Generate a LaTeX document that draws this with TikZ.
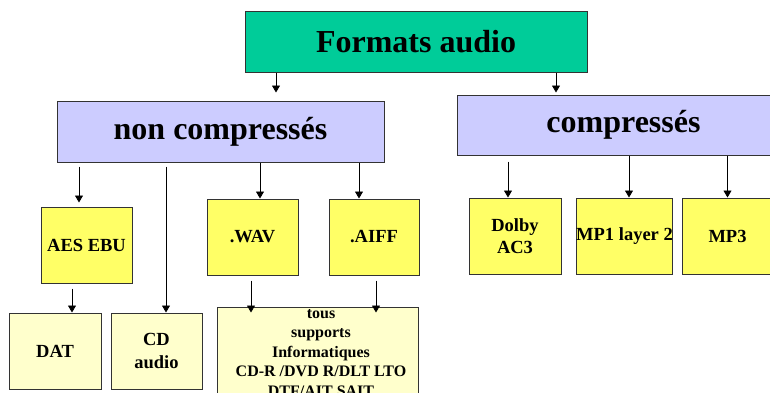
\documentclass[tikz,border=0pt]{standalone}
\usepackage{fontspec}
\setmainfont{Liberation Serif}
\usetikzlibrary{arrows.meta}
\definecolor{teal}{HTML}{00CC99}
\definecolor{lavender}{HTML}{CCCCFF}
\definecolor{yellow}{HTML}{FFFF66}
\definecolor{paleyellow}{HTML}{FFFFCC}
\definecolor{edge}{HTML}{333333}
\tikzset{
  topbox/.style={draw=edge,fill=teal,line width=1pt,inner sep=0pt,align=center,font=\fontsize{32}{38}\selectfont\bfseries},
  catbox/.style={draw=edge,fill=lavender,line width=1pt,inner sep=0pt,align=center,font=\fontsize{32}{38}\selectfont\bfseries},
  fmtbox/.style={draw=edge,fill=yellow,line width=1pt,minimum width=91pt,minimum height=76pt,inner sep=0pt,align=center,font=\fontsize{18.5}{22.5}\selectfont\bfseries},
  mediabox/.style={draw=edge,fill=paleyellow,line width=1pt,minimum width=91pt,minimum height=76pt,inner sep=0pt,align=center,font=\fontsize{18.5}{22.5}\selectfont\bfseries},
  link/.style={-{Triangle[length=7pt,width=8pt]},draw=black,line width=0.8pt}}

\begin{document}
\begin{tikzpicture}[x=1pt,y=-1pt]
  \fill[white] (0,0) rectangle (770,392);
  \useasboundingbox (0,0) rectangle (770,392);
  \clip (0,0) rectangle (770,392);
  % tree of the audio formats
  \node[topbox,minimum width=342pt,minimum height=61pt] (top) at (416,41.5) {Formats audio};
  \node[catbox,minimum width=327pt,minimum height=61pt] (nc) at (220.5,131.5) {non compressés};
  \node[catbox,minimum width=333pt,minimum height=60pt] (comp) at (623.5,125) {compressés};
  \node[fmtbox] (aes) at (86.5,245) {AES EBU};
  \node[fmtbox] (wav) at (252.5,237) {.WAV};
  \node[fmtbox,minimum width=90pt] (aiff) at (374,237) {.AIFF};
  \node[fmtbox,minimum width=92pt] (dolby) at (515,236) {Dolby\\AC3};
  \node[fmtbox] (mp1) at (624.5,236) {MP1 layer 2};
  \node[fmtbox] (mp3) at (727.5,236) {MP3};
  \node[mediabox,minimum width=92pt] (dat) at (55,351) {DAT};
  \node[mediabox] (cd) at (156.5,351) {CD\\audio};
  \node[mediabox,minimum width=201pt,minimum height=92pt] (tous) at (317.5,353) {};
  \node[font=\fontsize{16}{19.5}\selectfont\bfseries,align=center] (toustxt) at (321,353)
    {tous\\supports\\Informatiques\\CD-R /DVD R/DLT LTO\\DTF/AIT SAIT};
  % arrows
  \draw[link,shorten >=8pt] ([xshift=55.5pt]nc.north |- top.south) -- ([xshift=55.5pt]nc.north);
  \draw[link,shorten >=2pt] ([xshift=-67.5pt]comp.north |- top.south) -- ([xshift=-67.5pt]comp.north);
  \draw[link,shorten <=4pt,shorten >=4pt] ([xshift=-7.5pt]aes.north |- nc.south) -- ([xshift=-7.5pt]aes.north);
  \draw[link,shorten <=4pt] ([xshift=9.5pt]cd.north |- nc.south) -- ([xshift=9.5pt]cd.north);
  \draw[link] ([xshift=7.5pt]wav.north |- nc.south) -- ([xshift=7.5pt]wav.north);
  \draw[link] ([xshift=-15pt]aiff.north |- nc.south) -- ([xshift=-15pt]aiff.north);
  \draw[link,shorten <=6pt] ([xshift=-7pt]dolby.north |- comp.south) -- ([xshift=-7pt]dolby.north);
  \draw[link] ([xshift=4.5pt]mp1.north |- comp.south) -- ([xshift=4.5pt]mp1.north);
  \draw[link] (mp3.north |- comp.south) -- (mp3.north);
  \draw[link,shorten <=5pt] ([xshift=17pt]dat.north |- aes.south) -- ([xshift=17pt]dat.north);
  \draw[link,shorten <=5pt,shorten >=-6pt] ([xshift=-1.5pt]wav.south) -- ([xshift=-1.5pt]wav.south |- tous.north);
  \draw[link,shorten <=5pt,shorten >=-6pt] ([xshift=2pt]aiff.south) -- ([xshift=2pt]aiff.south |- tous.north);
\end{tikzpicture}
\end{document}
